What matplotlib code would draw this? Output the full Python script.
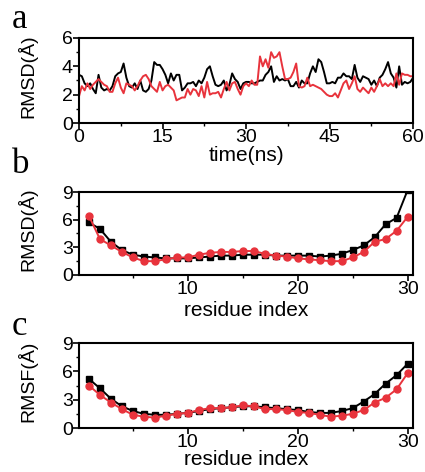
import matplotlib
matplotlib.use("Agg")
import matplotlib.pyplot as plt
import numpy as np
from matplotlib.ticker import MultipleLocator

# panel a: RMSD time series (every 0.5 ns)
time_ns = np.arange(0, 60.5, 0.5)
rmsd_black = [
    3.4, 3.3, 2.8, 2.6, 2.8, 2.4, 2.1, 3.4, 2.5, 2.3, 2.4, 2.3, 2.6, 3.3, 3.5, 3.6,
    4.2, 3.2, 2.6, 2.5, 2.8, 2.4, 3.0, 2.3, 2.2, 2.4, 3.0, 4.3, 4.1, 4.1, 3.8, 3.4,
    2.8, 3.5, 3.0, 3.4, 3.4, 2.3, 2.5, 2.8, 2.8, 2.9, 2.6, 3.0, 2.8, 3.2, 3.8, 4.0,
    3.3, 2.7, 2.6, 2.7, 3.0, 2.3, 2.7, 3.5, 3.1, 2.9, 2.4, 2.8, 2.9, 2.9, 2.8, 2.8,
    2.9, 3.0, 3.0, 3.4, 3.6, 4.0, 2.9, 3.3, 3.0, 3.1, 3.0, 3.1, 2.6, 2.6, 2.9, 2.5,
    3.0, 2.8, 2.8, 3.5, 4.0, 3.6, 4.5, 4.3, 3.6, 2.8, 2.8, 2.9, 2.8, 3.2, 3.2, 3.5,
    3.3, 3.3, 3.1, 4.1, 3.2, 2.9, 3.3, 3.2, 3.1, 2.7, 3.0, 2.6, 3.2, 3.4, 3.8, 4.3,
    3.5, 3.2, 2.5, 4.0, 2.7, 2.9, 2.8, 2.9, 3.2,
]
rmsd_red = [
    1.9, 2.6, 2.3, 2.8, 2.4, 2.7, 2.9, 3.1, 2.9, 2.7, 2.6, 2.2, 2.2, 2.8, 3.2, 2.5,
    2.1, 2.8, 2.7, 2.6, 2.3, 2.6, 3.0, 3.3, 3.4, 3.1, 2.6, 2.4, 2.2, 2.9, 2.3, 2.6,
    2.7, 2.5, 2.3, 1.6, 1.7, 1.8, 1.8, 2.4, 2.0, 2.4, 2.3, 1.9, 2.6, 1.8, 2.9, 2.0,
    2.1, 2.1, 2.2, 1.8, 2.4, 2.9, 2.3, 2.8, 2.9, 2.4, 2.0, 2.6, 2.8, 2.6, 3.0, 2.7,
    2.7, 4.7, 4.0, 4.5, 3.9, 5.0, 4.6, 4.7, 5.0, 4.0, 3.1, 3.1, 3.2, 3.6, 4.2, 2.6,
    2.5, 2.6, 3.2, 2.6, 2.7, 2.6, 2.5, 2.4, 2.2, 2.0, 1.9, 1.9, 2.1, 1.8, 2.3, 2.8,
    3.0, 2.4, 2.8, 3.3, 2.4, 2.2, 2.5, 2.3, 2.1, 2.5, 2.2, 2.6, 3.1, 2.6, 2.8, 2.6,
    2.8, 2.6, 3.5, 2.7, 3.5, 3.4, 3.4, 3.3, 3.3,
]

# panels b and c: per-residue values
residue = np.arange(1, 31)
rmsd_res_black = [5.7, 5.0, 3.6, 2.7, 2.2, 2.0, 1.9, 1.8, 1.8, 1.8, 1.9, 2.0, 2.1, 2.1, 2.2,
                  2.2, 2.2, 2.1, 2.1, 2.1, 2.1, 2.0, 2.1, 2.3, 2.7, 3.2, 4.1, 5.5, 6.2, 9.2]
rmsd_res_red = [6.4, 3.9, 3.2, 2.5, 1.9, 1.5, 1.5, 1.7, 1.9, 1.9, 2.2, 2.4, 2.5, 2.5, 2.6,
                2.6, 2.3, 2.1, 2.0, 1.8, 1.7, 1.6, 1.5, 1.5, 1.9, 2.5, 3.6, 3.9, 4.8, 6.3]
rmsf_black = [5.2, 4.2, 3.1, 2.3, 1.8, 1.5, 1.4, 1.4, 1.5, 1.6, 1.8, 2.0, 2.1, 2.2, 2.3,
              2.3, 2.2, 2.1, 2.0, 1.9, 1.7, 1.6, 1.6, 1.8, 2.1, 2.8, 3.6, 4.7, 5.6, 6.8]
rmsf_red = [4.5, 3.5, 2.7, 2.0, 1.4, 1.2, 1.1, 1.3, 1.5, 1.6, 1.9, 2.1, 2.1, 2.2, 2.4,
            2.3, 2.0, 2.0, 1.9, 1.7, 1.6, 1.4, 1.2, 1.3, 1.5, 1.9, 2.7, 3.2, 4.1, 5.8]

RED = "#e8333c"
plt.rcParams["font.family"] = ["Liberation Sans", "DejaVu Sans"]


def style_axes(ax):
    for s in ax.spines.values():
        s.set_linewidth(1.5)
    ax.tick_params(which="major", direction="out", length=4, width=1.2, labelsize=14, pad=0.5)
    ax.tick_params(which="minor", direction="out", length=2.5, width=1.0)


def main() -> None:
    fig = plt.figure(figsize=(4.25, 4.72), dpi=100)
    left, width = 0.186, 0.786
    ax_a = fig.add_axes([left, 0.7394, width, 0.1801])
    ax_b = fig.add_axes([left, 0.4174, width, 0.1758])
    ax_c = fig.add_axes([left, 0.0932, width, 0.1801])

    ax_a.plot(time_ns, rmsd_black, color="black", lw=1.4)
    ax_a.plot(time_ns, rmsd_red, color=RED, lw=1.4)
    ax_a.set_xlim(0, 60)
    ax_a.set_ylim(0, 6)
    ax_a.xaxis.set_major_locator(MultipleLocator(15))
    ax_a.xaxis.set_minor_locator(MultipleLocator(7.5))
    ax_a.yaxis.set_major_locator(MultipleLocator(2))
    ax_a.yaxis.set_minor_locator(MultipleLocator(1))
    ax_a.set_ylabel("RMSD(Å)", fontsize=14)
    ax_a.set_xlabel("time(ns)", fontsize=15, va="top")
    ax_a.xaxis.set_label_coords(0.5, -0.27)
    style_axes(ax_a)

    for ax, yb, yr, ylab, xl_y in [(ax_b, rmsd_res_black, rmsd_res_red, "RMSD(Å)", -0.31),
                                   (ax_c, rmsf_black, rmsf_red, "RMSF(Å)", -0.26)]:
        ax.plot(residue, yb, color="black", lw=1.4, marker="s", ms=4.5)
        ax.plot(residue, yr, color=RED, lw=1.4, marker="o", ms=5)
        ax.set_xlim(0.1, 30.5)
        ax.set_ylim(0, 9)
        ax.xaxis.set_major_locator(MultipleLocator(10))
        ax.xaxis.set_minor_locator(MultipleLocator(5))
        ax.yaxis.set_major_locator(MultipleLocator(3))
        ax.yaxis.set_minor_locator(MultipleLocator(1.5))
        ax.set_ylabel(ylab, fontsize=14)
        ax.set_xlabel("residue index", fontsize=15, va="top")
        ax.xaxis.set_label_coords(0.5, xl_y)
        style_axes(ax)

    for ax in (ax_a, ax_b, ax_c):
        ax.yaxis.set_label_coords(-0.125, 0.55)

    for lab, y in [("a", 1 - 28 / 472), ("b", 1 - 173 / 472), ("c", 1 - 335 / 472)]:
        fig.text(0.028, y, lab, fontsize=25, family="Liberation Serif", va="baseline")

    fig.savefig("out.png", dpi=100)


if __name__ == "__main__":
    main()
